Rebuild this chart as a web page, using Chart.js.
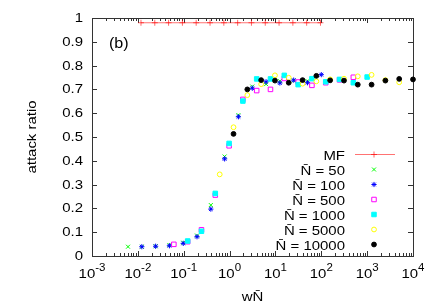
<!DOCTYPE html>
<html>
<head>
<meta charset="utf-8">
<script src="https://cdn.jsdelivr.net/npm/chart.js@4.4.0/dist/chart.umd.min.js"></script>
<style>
body { margin: 0; background: #fff; }
canvas { display: block; }
</style>
</head>
<body>
<canvas id="chart" width="436" height="305"></canvas>
<script>
// values (x = wN, y = attack ratio)
const mfX = [0.0117, 0.0234, 0.0468, 0.0937, 0.187, 0.375, 0.75, 1.5, 3.0, 6.0, 12.0, 24.0, 48.0, 96.0];
const mfY = [0.98, 0.98, 0.98, 0.98, 0.98, 0.98, 0.98, 0.98, 0.98, 0.98, 0.98, 0.98, 0.98, 0.98];

const n50X = [0.0061, 0.0122, 0.0244, 0.0488, 0.0977, 0.195, 0.39, 0.78, 1.56, 3.13, 6.25, 12.5, 25, 50];
const n50Y = [0.039, 0.039, 0.041, 0.046, 0.056, 0.086, 0.214, 0.418, 0.592, 0.712, 0.722, 0.735, 0.737, 0.735];

const n100X = [0.0122, 0.0244, 0.0488, 0.0977, 0.195, 0.39, 0.78, 1.56, 3.13, 6.25, 12.5, 25, 50, 100];
const n100Y = [0.039, 0.041, 0.043, 0.053, 0.081, 0.197, 0.408, 0.585, 0.705, 0.732, 0.727, 0.739, 0.728, 0.762];

const n500X = [0.061, 0.122, 0.244, 0.488, 0.977, 1.95, 3.9, 7.8, 15.6, 31.3, 62.5, 125, 250, 500];
const n500Y = [0.049, 0.060, 0.110, 0.256, 0.463, 0.658, 0.695, 0.700, 0.746, 0.731, 0.717, 0.728, 0.740, 0.751];

const n1000X = [0.122, 0.244, 0.488, 0.977, 1.95, 3.9, 7.8, 15.6, 31.3, 62.5, 125, 250, 500, 1000];
const n1000Y = [0.063, 0.104, 0.263, 0.473, 0.651, 0.744, 0.744, 0.759, 0.720, 0.745, 0.732, 0.742, 0.728, 0.752];

const n5000X = [0.61, 1.22, 2.44, 4.88, 9.77, 19.5, 39.1, 78.1, 156, 313, 625, 1250, 2500, 5000];
const n5000Y = [0.343, 0.541, 0.676, 0.722, 0.759, 0.749, 0.724, 0.734, 0.742, 0.745, 0.755, 0.761, 0.739, 0.730];

const n10000X = [1.22, 2.44, 4.88, 9.77, 19.5, 39.1, 78.1, 156, 313, 625, 1250, 2500, 5000, 10000];
const n10000Y = [0.513, 0.700, 0.739, 0.737, 0.728, 0.739, 0.757, 0.738, 0.737, 0.720, 0.720, 0.737, 0.744, 0.742];

const yTicks = [0, 0.1, 0.2, 0.3, 0.4, 0.5, 0.6, 0.7, 0.8, 0.9, 1];
const yTickLabels = ['0', '0.1', '0.2', '0.3', '0.4', '0.5', '0.6', '0.7', '0.8', '0.9', '1'];
const xTickExps = [-3, -2, -1, 0, 1, 2, 3, 4];

const FONT_FAMILY = '"Liberation Sans", Arial, sans-serif';
const STRETCH = 1.15;

function pts(xs, ys) {
    return xs.map((x, i) => ({x: x, y: ys[i]}));
}

function drawText(ctx, txt, x, y, align, size) {
    ctx.save();
    ctx.font = size + 'px ' + FONT_FAMILY;
    ctx.fillStyle = '#000';
    ctx.translate(x, y);
    ctx.scale(STRETCH, 1);
    ctx.textAlign = align;
    ctx.fillText(txt, 0, 0);
    ctx.restore();
}

function textWidth(ctx, txt, size) {
    ctx.font = size + 'px ' + FONT_FAMILY;
    return ctx.measureText(txt).width * STRETCH;
}

// gnuplot-like frame, inward ticks and labels
const frame = {
    id: 'frame',
    beforeDatasetsDraw(chart) {
        const {ctx, chartArea: a, scales: {x, y}} = chart;
        ctx.save();
        ctx.strokeStyle = '#333';
        ctx.lineWidth = 1;
        ctx.strokeRect(a.left + 0.5, a.top + 0.5, a.right - a.left, a.bottom - a.top);
        ctx.beginPath();
        yTicks.forEach(v => {
            const py = Math.round(y.getPixelForValue(v)) + 0.5;
            ctx.moveTo(a.left, py); ctx.lineTo(a.left + 5, py);
            ctx.moveTo(a.right, py); ctx.lineTo(a.right - 5, py);
        });
        xTickExps.forEach(e => {
            const base = Math.pow(10, e);
            const px = Math.round(x.getPixelForValue(base)) + 0.5;
            ctx.moveTo(px, a.bottom); ctx.lineTo(px, a.bottom - 5);
            ctx.moveTo(px, a.top); ctx.lineTo(px, a.top + 5);
            if (e < 4) {
                for (let k = 2; k < 10; k++) {
                    const mx = Math.round(x.getPixelForValue(k * base)) + 0.5;
                    ctx.moveTo(mx, a.bottom); ctx.lineTo(mx, a.bottom - 3);
                    ctx.moveTo(mx, a.top); ctx.lineTo(mx, a.top + 3);
                }
            }
        });
        ctx.stroke();

        ctx.textBaseline = 'middle';
        yTicks.forEach((v, i) => {
            drawText(ctx, yTickLabels[i], a.left - 9, y.getPixelForValue(v) + 0.5, 'right', 13);
        });
        ctx.textBaseline = 'alphabetic';
        xTickExps.forEach(e => {
            const px = x.getPixelForValue(Math.pow(10, e));
            const sup = String(e);
            const wb = textWidth(ctx, '10', 13);
            const ws = textWidth(ctx, sup, 10);
            const start = px - (wb + ws) / 2;
            drawText(ctx, '10', start, 278, 'left', 13);
            drawText(ctx, sup, start + wb, 271, 'left', 10);
        });

        // axis titles and panel tag
        drawText(ctx, 'w' + 'N\u0304', (a.left + a.right) / 2, 301, 'center', 13);
        ctx.save();
        ctx.translate(36, (a.top + a.bottom) / 2);
        ctx.rotate(-Math.PI / 2);
        drawText(ctx, 'attack ratio', 0, 0, 'center', 13);
        ctx.restore();
        drawText(ctx, '(b)', 109, 48, 'left', 14);
        ctx.restore();
    },
    afterDraw(chart) {
        // legend, bottom right inside the plot like gnuplot's key
        const ctx = chart.ctx;
        const textRight = 345, markX = 374;
        ctx.save();
        ctx.textBaseline = 'alphabetic';
        chart.data.datasets.forEach((ds, i) => {
            const yy = 154.5 + i * 15;
            drawText(ctx, ds.label, textRight, yy + 5.5, 'right', 13);
            if (ds.showLine) {
                ctx.strokeStyle = ds.borderColor;
                ctx.lineWidth = 1;
                ctx.beginPath();
                ctx.moveTo(355, yy); ctx.lineTo(395, yy);
                ctx.stroke();
            }
            const opts = {
                pointStyle: ds.pointStyle,
                radius: ds.pointRadius,
                borderWidth: 1,
                rotation: 0
            };
            ctx.strokeStyle = ds.pointBorderColor || ds.borderColor;
            ctx.fillStyle = ds.pointBackgroundColor;
            ctx.lineWidth = 1;
            Chart.helpers.drawPoint(ctx, opts, markX, yy);
        });
        ctx.restore();
    }
};

new Chart(document.getElementById('chart'), {
    type: 'scatter',
    data: {
        datasets: [
            {label: 'MF', data: pts(mfX, mfY), showLine: true, order: 7,
             borderColor: 'rgba(255,0,0,0.55)', pointBorderColor: 'rgba(255,0,0,0.6)',
             pointBackgroundColor: 'rgba(0,0,0,0)', pointStyle: 'cross', pointRadius: 3},
            {label: 'N\u0304 = 50', data: pts(n50X, n50Y), order: 6,
             borderColor: '#00ff00', pointBackgroundColor: 'rgba(0,0,0,0)', pointStyle: 'crossRot', pointRadius: 2.8},
            {label: 'N\u0304 = 100', data: pts(n100X, n100Y), order: 5,
             borderColor: '#0000ff', pointBackgroundColor: 'rgba(0,0,0,0)', pointStyle: 'star', pointRadius: 2.6},
            {label: 'N\u0304 = 500', data: pts(n500X, n500Y), order: 4,
             borderColor: '#ff00ff', pointBackgroundColor: 'rgba(0,0,0,0)', pointStyle: 'rect', pointRadius: 3.2},
            {label: 'N\u0304 = 1000', data: pts(n1000X, n1000Y), order: 3,
             borderColor: '#00ffff', pointBackgroundColor: '#00ffff', pointStyle: 'rect', pointRadius: 3.2},
            {label: 'N\u0304 = 5000', data: pts(n5000X, n5000Y), order: 2,
             borderColor: '#ffff00', pointBackgroundColor: 'rgba(0,0,0,0)', pointStyle: 'circle', pointRadius: 2.4},
            {label: 'N\u0304 = 10000', data: pts(n10000X, n10000Y), order: 1,
             borderColor: '#000000', pointBackgroundColor: '#000000', pointStyle: 'circle', pointRadius: 2.4}
        ].map(ds => Object.assign({borderWidth: 1, pointBorderWidth: 1, clip: false, pointHoverRadius: 0}, ds))
    },
    options: {
        responsive: false,
        animation: false,
        events: [],
        layout: {padding: {left: 92, right: 23, top: 18, bottom: 49}},
        plugins: {legend: {display: false}, tooltip: {enabled: false}},
        scales: {
            x: {type: 'logarithmic', min: 0.001, max: 10000, display: false},
            y: {type: 'linear', min: 0, max: 1, display: false}
        }
    },
    plugins: [frame]
});
</script>
</body>
</html>
